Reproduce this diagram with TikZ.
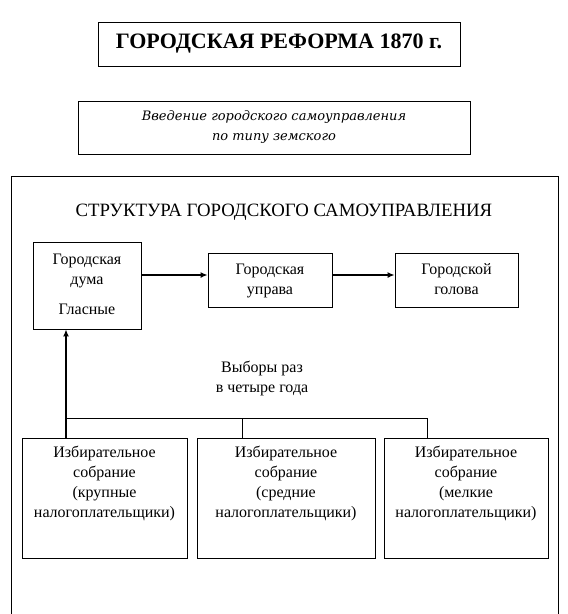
\documentclass[tikz,border=0pt]{standalone}
\usepackage{fontspec}
\setmainfont{Liberation Serif}
\newfontfamily\introfont{DejaVu Serif}
\usetikzlibrary{arrows.meta}
\begin{document}
\begin{tikzpicture}[x=1pt,y=-1pt,
  box/.style={draw,line width=0.8pt,inner sep=0pt},
  txt/.style={align=center,font=\fontsize{16}{20}\selectfont,inner sep=0pt},
  thickarrow/.style={line width=1.8pt,-{Latex[length=7pt,width=6pt]}},
  thin/.style={line width=0.8pt}]
\useasboundingbox (0,0) rectangle (568,614);
\fill[white] (0,0) rectangle (568,614);
% outer frame
\draw[thin] (11,630) -- (11,176) -- (558,176) -- (558,630);
% title
\node[box,minimum width=362pt,minimum height=44pt,font=\fontsize{22}{24}\selectfont\bfseries] (title) at (279,44) {ГОРОДСКАЯ РЕФОРМА 1870 г.};
% intro
\node[box,minimum width=392pt,minimum height=53pt,align=center,font=\introfont\fontsize{13}{20}\selectfont\itshape] (intro) at (274,127.5) {Введение городского самоуправления\\по типу земского};
% heading
\node[font=\fontsize{18.8}{22}\selectfont,inner sep=0pt] (head) at (284,212) {СТРУКТУРА ГОРОДСКОГО САМОУПРАВЛЕНИЯ};
% top row boxes
\node[box,minimum width=108pt,minimum height=87pt] (duma) at (87,285.5) {};
\node[txt,anchor=north] (dumat) at ([yshift=-12pt]duma.north) {Городская\\дума\\[10pt]Гласные};
\node[box,minimum width=124pt,minimum height=54pt] (uprava) at (270,280) {};
\node[txt,anchor=north] (upravat) at ([yshift=-11pt]uprava.north) {Городская\\управа};
\node[box,minimum width=123pt,minimum height=54pt] (golova) at (456.5,280) {};
\node[txt,anchor=north] (golovat) at ([yshift=-11pt]golova.north) {Городской\\голова};
\draw[thickarrow] (duma.east |- 0,275) -- (uprava.west |- 0,275);
\draw[thickarrow] (uprava.east |- 0,275) -- (golova.west |- 0,275);
% elections label
\node[txt] (vybory) at (262,378) {Выборы раз\\в четыре года};
% bottom boxes
\node[box,minimum width=165pt,minimum height=120pt] (s1) at (104.5,498) {};
\node[txt,anchor=north] (s1t) at ([yshift=-8pt]s1.north) {Избирательное\\собрание\\(крупные\\налогоплательщики)};
\node[box,minimum width=178pt,minimum height=120pt] (s2) at (286,498) {};
\node[txt,anchor=north] (s2t) at ([yshift=-8pt]s2.north) {Избирательное\\собрание\\(средние\\налогоплательщики)};
\node[box,minimum width=164pt,minimum height=120pt] (s3) at (466,498) {};
\node[txt,anchor=north] (s3t) at ([yshift=-8pt]s3.north) {Избирательное\\собрание\\(мелкие\\налогоплательщики)};
% connectors
\coordinate (j1) at (66,418);
\coordinate (j2) at (242,418);
\coordinate (j3) at (427,418);
\draw[thin] (j1) -- (j3);
\draw[thin] (j2) -- (j2 |- s2.north);
\draw[thin] (j3) -- (j3 |- s3.north);
\draw[thickarrow] (j1 |- s1.north) -- (j1 |- duma.south);
\end{tikzpicture}
\end{document}
